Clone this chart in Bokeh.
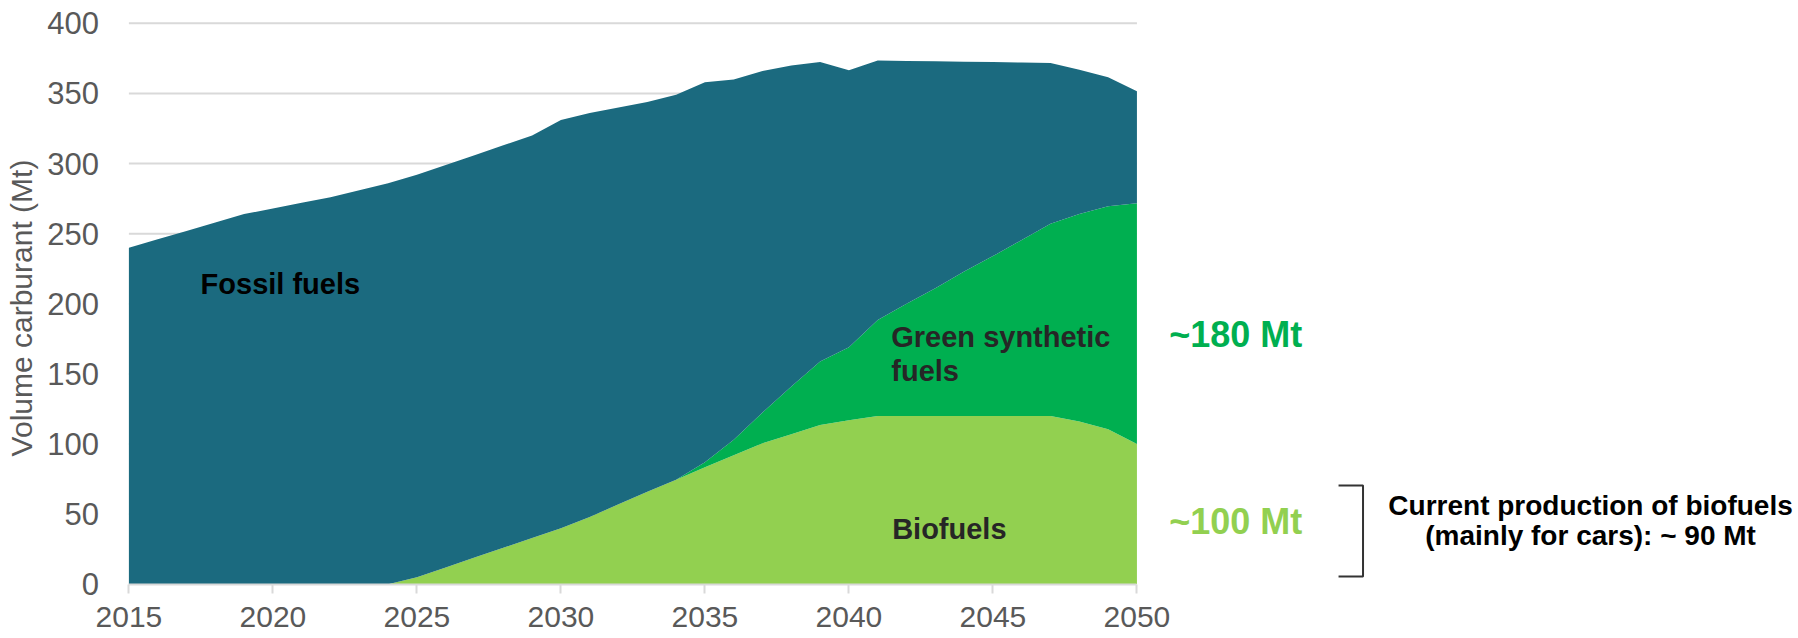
from bokeh.plotting import figure
from bokeh.models import ColumnDataSource, Range1d, FixedTicker, Label
from bokeh.embed import file_html
from bokeh.resources import INLINE

# Fuel volumes by year (Mt)
years = list(range(2015, 2051))

biofuels = [0, 0, 0, 0, 0, 0, 0, 0, 0, 0,
            5, 12, 19, 26, 33, 40, 48, 57, 66, 74.5,
            83.5, 92, 100.5, 107, 113.5, 117, 120, 120, 120, 120,
            120, 120, 120, 116, 110.5, 100]

synthetic = [0, 0, 0, 0, 0, 0, 0, 0, 0, 0,
             0, 0, 0, 0, 0, 0, 0, 0, 0, 0,
             3.5, 11, 22, 34, 45.3, 52, 68.5, 80, 91, 103,
             114, 125.5, 137, 148, 159, 171.7]

fossil = [240, 246, 252, 258, 264, 268, 272, 276, 281, 286,
          287, 287, 287, 287, 287, 291, 288, 283, 278, 274.5,
          271, 257, 243.5, 229, 213.7, 197.5, 185, 173.2, 162, 149.7,
          138.4, 126.6, 114.8, 103, 92, 79.8]

series_names = ["biofuels", "synthetic", "fossil"]
series_colors = ["#92D050", "#00AF50", "#1B6A7F"]

x_ticks = [2015, 2020, 2025, 2030, 2035, 2040, 2045, 2050]
y_ticks = [0, 50, 100, 150, 200, 250, 300, 350, 400]

FONT = "Liberation Sans"
GREY = "#595959"
GRID = "#D9D9D9"

source = ColumnDataSource(dict(year=years, biofuels=biofuels,
                               synthetic=synthetic, fossil=fossil))

# The frame fills the whole canvas; both axes are pinned to the data origin
# so their labels sit in the room left around the plotted span.
p = figure(width=1798, height=638, output_backend="svg", toolbar_location=None,
           x_range=Range1d(2010.542, 2072.97), y_range=Range1d(-38.7, 416.3),
           min_border=0, min_border_left=0, min_border_right=0,
           min_border_top=0, min_border_bottom=0)
p.outline_line_color = None
p.background_fill_color = "white"
p.border_fill_color = "white"
p.xgrid.visible = False
p.ygrid.visible = False

# horizontal guide lines limited to the data span
grid_levels = y_ticks[1:]
p.segment(x0=[years[0]] * len(grid_levels), x1=[years[-1]] * len(grid_levels),
          y0=grid_levels, y1=grid_levels, line_color=GRID, line_width=2)

p.varea_stack(stackers=series_names, x="year", color=series_colors, source=source)

# axes
xa = p.xaxis[0]
xa.fixed_location = 0
xa.bounds = (years[0], years[-1])
xa.ticker = FixedTicker(ticks=x_ticks)
xa.axis_line_color = GRID
xa.axis_line_width = 2
xa.major_tick_line_color = GRID
xa.major_tick_line_width = 2
xa.major_tick_in = 0
xa.major_tick_out = 9
xa.minor_tick_line_color = None
xa.major_label_text_font = FONT
xa.major_label_text_font_size = "30px"
xa.major_label_text_color = GREY
xa.major_label_standoff = 14

ya = p.yaxis[0]
ya.fixed_location = years[0]
ya.bounds = (-18, 412)
ya.ticker = FixedTicker(ticks=y_ticks)
ya.axis_line_color = None
ya.major_tick_line_color = None
ya.minor_tick_line_color = None
ya.major_label_text_font = FONT
ya.major_label_text_font_size = "31px"
ya.major_label_text_color = GREY
ya.major_label_standoff = 24
ya.axis_label = "Volume carburant (Mt)"
ya.axis_label_text_font = FONT
ya.axis_label_text_font_size = "30px"
ya.axis_label_text_font_style = "normal"
ya.axis_label_text_color = GREY
ya.axis_label_standoff = 6


def add_label(x, y, text, size, color, align="left", style="bold"):
    p.add_layout(Label(x=x, y=y, text=text, text_font=FONT, text_font_size=size,
                       text_font_style=style, text_color=color,
                       text_align=align, text_baseline="middle"))


# area names
add_label(2017.49, 214.4, "Fossil fuels", "29px", "#000000")
add_label(2041.47, 176.1, "Green synthetic", "29px", "#262626")
add_label(2041.47, 151.9, "fuels", "29px", "#262626")
add_label(2041.50, 39.4, "Biofuels", "29px", "#262626")

# 2050 volumes
add_label(2051.12, 178.0, "~180 Mt", "36px", "#00AF50")
add_label(2051.12, 44.8, "~100 Mt", "36px", "#92D050")

# bracket for today's biofuel output
p.line(x=[2057.0, 2057.85, 2057.85, 2057.0], y=[70.4, 70.4, 5.5, 5.5],
       line_color="#333333", line_width=2)
add_label(2065.75, 56.5, "Current production of biofuels", "28px", "#000000", align="center")
add_label(2065.75, 34.4, "(mainly for cars): ~ 90 Mt", "28px", "#000000", align="center")

open("out.html", "w").write(file_html(p, INLINE))
